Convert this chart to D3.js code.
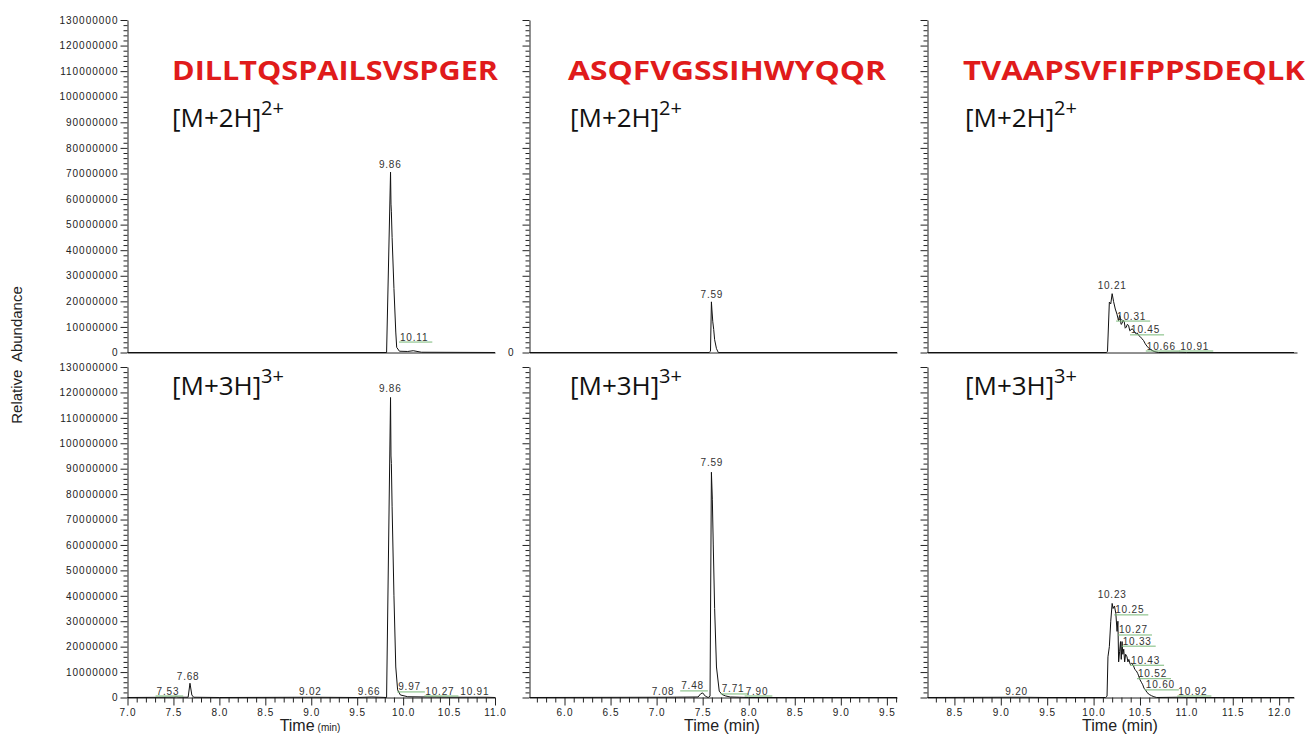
<!DOCTYPE html>
<html><head><meta charset="utf-8">
<script src="https://cdn.jsdelivr.net/npm/d3@7"></script>
<style>body{margin:0;background:#fff;} svg{display:block;}</style>
</head><body><svg id="c" width="1309" height="734"></svg>
<script>
// ---------------- DATA ----------------
const peptides = ["DILLTQSPAILSVSPGER", "ASQFVGSSIHWYQQR", "TVAAPSVFIFPPSDEQLK"];
const ionLabels = ["[M+2H]", "[M+3H]"];
const ionCharges = ["2+", "3+"];
const timeDomains = [[7.0, 11.0], [5.62, 9.61], [8.21, 12.16]];
const intensityMax = 130000000;
const yTicks = [0, 10000000, 20000000, 30000000, 40000000, 50000000, 60000000, 70000000,
                80000000, 90000000, 100000000, 110000000, 120000000, 130000000];
const xTicksCol0 = [7.0, 7.5, 8.0, 8.5, 9.0, 9.5, 10.0, 10.5, 11.0];
const xTicksCol1 = [6.0, 6.5, 7.0, 7.5, 8.0, 8.5, 9.0, 9.5];
const xTicksCol2 = [8.5, 9.0, 9.5, 10.0, 10.5, 11.0, 11.5, 12.0];

// DILLTQSPAILSVSPGER [M+2H]2+
const dill2Time = [7.00, 9.82, 9.863, 9.868, 9.872, 9.88, 9.90, 9.92, 9.93, 9.96, 10.05, 10.11, 10.20, 11.00];
const dill2Int  = [0, 0, 70.5e6, 58e6, 55e6, 45e6, 25e6, 8e6, 2e6, 0.5e6, 0.4e6, 0.7e6, 0.1e6, 0];
const dill2Labels = [["9.86", 9.86, 71e6, 0], ["10.11", 10.12, 3.5e6, 1]];

// DILLTQSPAILSVSPGER [M+3H]3+
const dill3Time = [7.00, 7.50, 7.53, 7.56, 7.66, 7.68, 7.70, 7.72, 8.00, 9.02, 9.50, 9.66, 9.82, 9.863, 9.868, 9.872,
                   9.88, 9.90, 9.92, 9.94, 9.97, 10.05, 10.27, 10.50, 10.91, 11.00];
const dill3Int  = [0, 0.1e6, 0.2e6, 0.1e6, 0.1e6, 5.6e6, 1e6, 0.1e6, 0, 0.1e6, 0, 0.2e6, 0, 118e6, 95e6, 92e6,
                   75e6, 40e6, 12e6, 3e6, 1e6, 0.3e6, 0.2e6, 0.1e6, 0.1e6, 0];
const dill3Labels = [["7.53", 7.44, 0, 1], ["7.68", 7.66, 5.6e6, 0], ["9.02", 8.99, 0, 0], ["9.66", 9.63, 0, 0],
                     ["9.86", 9.86, 119e6, 0], ["9.97", 10.07, 1.6e6, 1], ["10.27", 10.40, 0, 1], ["10.91", 10.78, 0, 0]];

// ASQFVGSSIHWYQQR [M+2H]2+
const asq2Time = [5.62, 7.57, 7.585, 7.595, 7.60, 7.61, 7.62, 7.63, 7.65, 7.67, 9.61];
const asq2Int  = [0, 0, 0.5e6, 19.8e6, 17e6, 12e6, 9e6, 5e6, 1.5e6, 0, 0];
const asq2Labels = [["7.59", 7.60, 20e6, 0]];

// ASQFVGSSIHWYQQR [M+3H]3+
const asq3Time = [5.62, 7.08, 7.45, 7.48, 7.50, 7.53, 7.56, 7.58, 7.595, 7.605, 7.615, 7.63, 7.65, 7.68, 7.71,
                  7.75, 7.80, 7.90, 8.00, 9.61];
const asq3Int  = [0, 0.1e6, 0.2e6, 1.5e6, 1.8e6, 0.5e6, 0, 0.5e6, 88.6e6, 78e6, 60e6, 35e6, 12e6, 2.5e6, 1.2e6,
                  0.6e6, 0.2e6, 0.1e6, 0, 0];
const asq3Labels = [["7.08", 7.07, 0, 0], ["7.48", 7.39, 2e6, 1], ["7.59", 7.60, 90e6, 0],
                    ["7.71", 7.83, 0.8e6, 1], ["7.90", 8.09, 0, 1]];

// TVAAPSVFIFPPSDEQLK [M+2H]2+
const tva2Time = [8.21, 10.14, 10.15, 10.17, 10.185, 10.20, 10.215, 10.234, 10.252, 10.262, 10.269, 10.28, 10.287,
                  10.296, 10.306, 10.318, 10.331, 10.341, 10.352, 10.364, 10.377, 10.39, 10.403, 10.417, 10.431,
                  10.445, 10.46, 10.472, 10.485, 10.50, 10.521, 10.538, 10.557, 10.575, 10.592, 10.61, 10.629,
                  10.66, 10.70, 10.91, 11.00, 12.16];
const tva2Int  = [0, 0, 0.5e6, 19.7e6, 19e6, 23e6, 20e6, 17e6, 15e6, 13.5e6, 12.5e6, 14.5e6, 13.8e6,
                  11e6, 11.3e6, 12.6e6, 11.9e6, 9.5e6, 9.9e6, 11e6, 10.6e6, 8.5e6, 8.9e6, 9.3e6, 8.6e6,
                  7.8e6, 7.3e6, 7.6e6, 6.7e6, 6.3e6, 5.4e6, 4.7e6, 3.4e6, 2.5e6, 1.8e6, 1.3e6, 0.8e6,
                  0.3e6, 0, 0.1e6, 0, 0];
const tva2Labels = [["10.21", 10.20, 23.5e6, 0], ["10.31", 10.41, 11.7e6, 1], ["10.45", 10.56, 6.3e6, 1],
                    ["10.66", 10.73, 0, 1], ["10.91", 11.09, 0, 1]];

// TVAAPSVFIFPPSDEQLK [M+3H]3+
const tva3Time = [8.21, 9.20, 9.50, 10.13, 10.145, 10.155, 10.17, 10.185, 10.20, 10.21, 10.225, 10.24, 10.253,
                  10.262, 10.27, 10.28, 10.29, 10.298, 10.307, 10.315, 10.325, 10.335, 10.345, 10.36, 10.37,
                  10.38, 10.395, 10.41, 10.43, 10.445, 10.46, 10.475, 10.486, 10.50, 10.515, 10.53, 10.545,
                  10.56, 10.575, 10.60, 10.625, 10.65, 10.68, 10.92, 11.00, 12.16];
const tva3Int  = [0, 0.1e6, 0, 0, 0.5e6, 16e6, 20e6, 30e6, 37e6, 35e6, 36e6, 33e6, 26e6,
                  30e6, 14e6, 18e6, 22e6, 15e6, 22e6, 17e6, 19e6, 14e6, 17e6, 16e6, 14e6,
                  15e6, 13e6, 13.5e6, 12.5e6, 11e6, 10.5e6, 9.5e6, 8.5e6, 7e6, 6e6, 5e6, 3.5e6,
                  3e6, 2e6, 1.2e6, 0.7e6, 0.3e6, 0, 0.1e6, 0, 0];
const tva3Labels = [["9.20", 9.17, 0, 0], ["10.23", 10.20, 38e6, 0], ["10.25", 10.39, 31.9e6, 1],
                    ["10.27", 10.43, 24e6, 1], ["10.33", 10.47, 19.6e6, 1], ["10.43", 10.56, 12.1e6, 1],
                    ["10.52", 10.635, 6.8e6, 1], ["10.60", 10.72, 2.4e6, 1], ["10.92", 11.07, 0, 1]];

// ---------------- LAYOUT ----------------
const svg = d3.select("#c");
const colX = [[127.5, 495], [529.5, 897], [927.5, 1294]];
const rowY = [[20, 352.5], [367, 697.5]];
const xTickSets = [xTicksCol0, xTicksCol1, xTicksCol2];
const traces = [
  [[dill2Time, dill2Int, dill2Labels], [dill3Time, dill3Int, dill3Labels]],
  [[asq2Time, asq2Int, asq2Labels], [asq3Time, asq3Int, asq3Labels]],
  [[tva2Time, tva2Int, tva2Labels], [tva3Time, tva3Int, tva3Labels]]
];
const smallFont = "'Liberation Sans', Arial, sans-serif";
const titleX = [172, 568, 963];
const titleW = [326, 318, 342];
const ionX = [172, 570, 965];

function styleAxis(g) {
  g.selectAll("path.domain").attr("stroke", "#222").attr("stroke-width", 1);
  g.selectAll(".tick line").attr("stroke", "#222").attr("stroke-width", 1);
  g.selectAll(".tick text").attr("font-family", smallFont).attr("font-size", 10)
    .attr("letter-spacing", "1px").attr("fill", "#222");
}

for (let c = 0; c < 3; c++) {
  for (let r = 0; r < 2; r++) {
    const x = d3.scaleLinear().domain(timeDomains[c]).range(colX[c]);
    const y = d3.scaleLinear().domain([0, intensityMax]).range([rowY[r][1], rowY[r][0]]);
    const g = svg.append("g");

    // y minor ticks
    const yMinor = d3.range(0, intensityMax + 1, 2000000).filter(v => v % 10000000 !== 0);
    const gyMinor = g.append("g").attr("transform", `translate(${colX[c][0]},0)`)
      .call(d3.axisLeft(y).tickValues(yMinor).tickSize(4).tickFormat(""));
    gyMinor.select("path.domain").remove();
    styleAxis(gyMinor);

    // y major axis
    let fmt;
    if (c === 0) fmt = d => String(d);
    else if (c === 1 && r === 0) fmt = d => (d === 0 ? "0" : "");
    else fmt = () => "";
    const gy = g.append("g").attr("transform", `translate(${colX[c][0]},0)`)
      .call(d3.axisLeft(y).tickValues(yTicks).tickSize(7).tickSizeOuter(0)
        .tickPadding(c === 1 ? 8 : 2).tickFormat(fmt));
    styleAxis(gy);

    // x axis
    const xBase = rowY[r][1];
    if (r === 0) {
      const xr = x.copy().range([colX[c][0], colX[c][1] + (c === 2 ? 3 : 0)]);
      const gx = g.append("g").attr("transform", `translate(0,${xBase})`)
        .call(d3.axisBottom(xr).tickValues([]).tickSizeOuter(0));
      styleAxis(gx);
    } else {
      const lo = Math.ceil(timeDomains[c][0] * 10 + 1e-9), hi = Math.floor(timeDomains[c][1] * 10 + 1e-9);
      const xMinor = d3.range(lo, hi + 1).map(v => v / 10).filter(v => Math.abs(v * 2 - Math.round(v * 2)) > 1e-6);
      const gxm = g.append("g").attr("transform", `translate(0,${xBase})`)
        .call(d3.axisBottom(x).tickValues(xMinor).tickSize(5).tickFormat(""));
      gxm.select("path.domain").remove();
      styleAxis(gxm);
      const gx = g.append("g").attr("transform", `translate(0,${xBase})`)
        .call(d3.axisBottom(x).tickValues(xTickSets[c]).tickSize(8).tickSizeOuter(0)
          .tickPadding(3).tickFormat(d3.format(".1f")));
      styleAxis(gx);
    }

    // trace
    const [tArr, vArr, labels] = traces[c][r];
    const pts = tArr.map((t, i) => [t, vArr[i]]);
    g.append("path").datum(pts)
      .attr("d", d3.line().x(d => x(d[0])).y(d => y(d[1])))
      .attr("fill", "none").attr("stroke", "#111").attr("stroke-width", 1)
      .attr("stroke-linejoin", "round");

    // peak labels
    labels.forEach(([txt, t, v, green]) => {
      const tx = g.append("text")
        .attr("x", x(t)).attr("y", y(v) - 3)
        .attr("text-anchor", "middle")
        .attr("font-family", smallFont).attr("font-size", 10)
        .attr("letter-spacing", "0.8px").attr("fill", "#333")
        .text(txt);
      if (green) {
        const bb = tx.node().getBBox();
        g.append("line")
          .attr("x1", bb.x - 1).attr("x2", bb.x + bb.width + 4)
          .attr("y1", y(v) - 1.5).attr("y2", y(v) - 1.5)
          .attr("stroke", "#79b979").attr("stroke-width", 1);
      }
    });

    // ion label
    const ionY = r === 0 ? 127 : 395;
    g.append("text").attr("x", ionX[c]).attr("y", ionY)
      .attr("font-family", "'Open Sans', sans-serif").attr("font-size", 26)
      .attr("fill", "#111").text(ionLabels[r]);
    g.append("text").attr("x", ionX[c] + 89).attr("y", ionY - 12)
      .attr("font-family", "'Open Sans', sans-serif").attr("font-size", 20)
      .attr("fill", "#111").text(ionCharges[r]);
  }

  // peptide title
  svg.append("text").attr("x", titleX[c]).attr("y", 80)
    .attr("font-family", "'Open Sans', sans-serif").attr("font-weight", 700)
    .attr("font-size", 26).attr("fill", "#e01b1b")
    .attr("textLength", titleW[c]).attr("lengthAdjust", "spacingAndGlyphs")
    .text(peptides[c]);

  // x axis title
  const cx = [310, 722, 1120][c];
  const tt = svg.append("text").attr("x", cx).attr("y", 731).attr("text-anchor", "middle")
    .attr("font-family", smallFont).attr("font-size", 16).attr("fill", "#222");
  if (c === 0) {
    tt.append("tspan").text("Time");
    tt.append("tspan").attr("font-size", 10).attr("dx", 3).text("(min)");
  } else {
    tt.text("Time (min)");
  }
}

// y axis title
svg.append("text").attr("transform", "translate(22,355) rotate(-90)")
  .attr("text-anchor", "middle").attr("font-family", smallFont).attr("font-size", 15)
  .attr("fill", "#222").attr("xml:space", "preserve").text("Relative  Abundance");
</script></body></html>
